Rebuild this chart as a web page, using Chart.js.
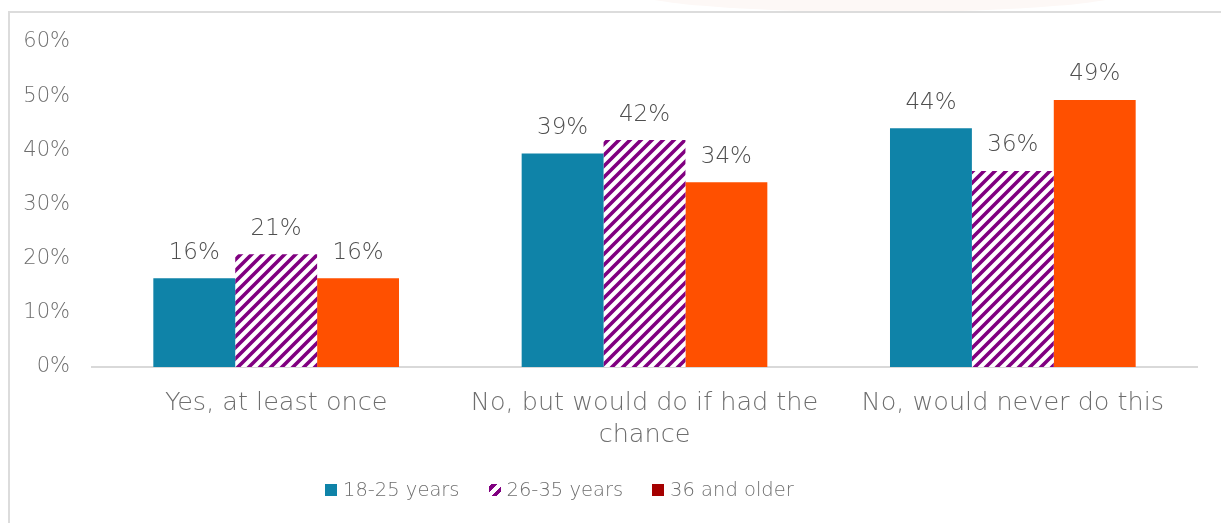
<!DOCTYPE html>
<html>
<head>
<meta charset="utf-8">
<script src="https://cdn.jsdelivr.net/npm/chart.js@4.4.1/dist/chart.umd.min.js"></script>
<style>
	html, body { margin: 0; padding: 0; background: #fff; }
	body { width: 1221px; height: 523px; position: relative; overflow: hidden; font-family: "DejaVu Sans", sans-serif; }
	.haze { position: absolute; left: 630px; top: -30px; width: 500px; height: 42px; border-radius: 0 0 60% 60%; background: #fdf8f6; }
	.frame { position: absolute; left: 8px; top: 11px; right: -4px; bottom: -4px; border-left: 2px solid #dcdcdc; border-top: 2px solid #dcdcdc; }
	#chartWrap { position: absolute; left: 0; top: 0; width: 1221px; height: 523px; }
	#legend { position: absolute; left: 325px; top: 478px; display: flex; align-items: center; font-size: 19.5px; font-weight: 200; color: #6e6e6e; }
	#legend .item { display: flex; align-items: center; margin-right: 29px; }
	#legend .box { width: 12px; height: 12px; margin-right: 6px; }
</style>
</head>
<body>
<div class="haze"></div>
<div class="frame"></div>
<div id="chartWrap"><canvas id="ageChart" width="1221" height="523"></canvas></div>
<div id="legend"></div>
<script>
// --- DONNÉES --- //
const categories = ['Yes, at least once', ['No, but would do if had the', 'chance'], 'No, would never do this'];
const seriesNames = ['18-25 years', '26-35 years', '36 and older'];
const young = [16.4, 39.4, 44.1];
const middle = [20.8, 41.9, 36.2];
const older = [16.4, 34.1, 49.3];
const yTicks = [0, 10, 20, 30, 40, 50, 60];

const TEAL = '#0F83A8';
const PURPLE = '#800080';
const ORANGE = '#FF5000';
const LEGEND_RED = '#A50000';

// motif hachuré (diagonales montantes)
const makeHatch = () => {
	const s = 11;
	const c = document.createElement('canvas');
	c.width = s; c.height = s;
	const g = c.getContext('2d');
	g.fillStyle = '#fff';
	g.fillRect(0, 0, s, s);
	g.strokeStyle = PURPLE;
	g.lineWidth = 3.6;
	g.beginPath();
	g.moveTo(-s / 2, s / 2); g.lineTo(s / 2, -s / 2);
	g.moveTo(0, s); g.lineTo(s, 0);
	g.moveTo(s / 2, s * 1.5); g.lineTo(s * 1.5, s / 2);
	g.stroke();
	return g.createPattern(c, 'repeat');
};

// étiquettes de valeur au-dessus des barres
const valueLabels = {
	id: 'valueLabels',
	afterDatasetsDraw(chart) {
		const ctx = chart.ctx;
		ctx.save();
		ctx.font = '200 23px "DejaVu Sans"';
		ctx.fillStyle = '#4f4f4f';
		ctx.textAlign = 'center';
		ctx.textBaseline = 'bottom';
		chart.data.datasets.forEach((ds, i) => {
			chart.getDatasetMeta(i).data.forEach((bar, j) => {
				ctx.fillText(Math.round(ds.data[j]) + '%', bar.x, bar.y - 14);
			});
		});
		ctx.restore();
	}
};

const hatch = makeHatch();

new Chart(document.getElementById('ageChart'), {
	type: 'bar',
	data: {
		labels: categories,
		datasets: [
			{ label: seriesNames[0], data: young, backgroundColor: TEAL },
			{ label: seriesNames[1], data: middle, backgroundColor: hatch },
			{ label: seriesNames[2], data: older, backgroundColor: ORANGE }
		]
	},
	options: {
		responsive: false,
		animation: false,
		layout: { padding: { left: 0, right: 24, top: 42, bottom: 0 } },
		datasets: { bar: { categoryPercentage: 0.667, barPercentage: 1, borderWidth: 0 } },
		plugins: { legend: { display: false }, tooltip: { enabled: false } },
		scales: {
			x: {
				grid: { display: false, drawTicks: false },
				border: { display: true, color: '#d9d9d9', width: 2 },
				ticks: { color: '#6e6e6e', padding: 20, font: { family: 'DejaVu Sans', weight: 200, size: 25.5, lineHeight: 1.27 }, maxRotation: 0 },
				afterFit: s => { s.height = 523 - 367; }
			},
			y: {
				min: 0, max: 60,
				afterBuildTicks: s => { s.ticks = yTicks.map(v => ({ value: v })); },
				grid: { display: false, drawTicks: false },
				border: { display: false },
				ticks: { color: '#6e6e6e', padding: 22, font: { family: 'DejaVu Sans', weight: 200, size: 21 }, callback: v => v + '%' },
				afterFit: s => { s.width = 92; }
			}
		}
	},
	plugins: [valueLabels]
});

// légende HTML
const swatches = [TEAL, 'repeating-linear-gradient(135deg, #fff 0 2px, ' + PURPLE + ' 2px 6px, #fff 6px 8px)', LEGEND_RED];
document.getElementById('legend').innerHTML = seriesNames.map((n, i) => `
	<div class="item"><div class="box" style="background:${swatches[i]}"></div><span>${n}</span></div>`).join('');
</script>
</body>
</html>
